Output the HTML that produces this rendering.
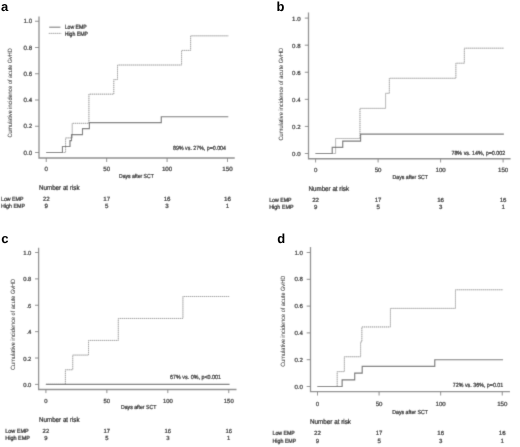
<!DOCTYPE html>
<html><head><meta charset="utf-8"><style>
html,body{margin:0;padding:0;background:#fff;}
body{width:520px;height:447px;overflow:hidden;}
svg{display:block;font-family:"Liberation Sans", sans-serif;text-rendering:geometricPrecision;}
</style></head><body>
<svg width="520" height="447" viewBox="0 0 520 447">
<defs><filter id="bl" x="0" y="0" width="520" height="447" filterUnits="userSpaceOnUse"><feConvolveMatrix order="3" kernelMatrix="0.0144 0.0912 0.0144 0.0912 0.5776 0.0912 0.0144 0.0912 0.0144" edgeMode="duplicate" preserveAlpha="true"/></filter>
<filter id="nb" x="0" y="0" width="520" height="447" filterUnits="userSpaceOnUse"><feOffset dx="0" dy="0"/></filter></defs>
<rect width="520" height="447" fill="#fff"/>
<g filter="url(#bl)">
<rect width="520" height="447" fill="#fff"/>
<path d="M39.00 16.50 V158.00 H234.75" fill="none" stroke="#8a8a8a" stroke-width="1.3"/>
<path d="M35.00 152.50 H39.00" stroke="#8a8a8a" stroke-width="1"/>
<text x="32.20" y="154.72" font-size="6.2" text-anchor="end" font-weight="normal" fill="#111" stroke="#111" stroke-width="0.2">0.0</text>
<path d="M35.00 126.25 H39.00" stroke="#8a8a8a" stroke-width="1"/>
<text x="32.20" y="128.47" font-size="6.2" text-anchor="end" font-weight="normal" fill="#111" stroke="#111" stroke-width="0.2">0.2</text>
<path d="M35.00 100.00 H39.00" stroke="#8a8a8a" stroke-width="1"/>
<text x="32.20" y="102.22" font-size="6.2" text-anchor="end" font-weight="normal" fill="#111" stroke="#111" stroke-width="0.2">0.4</text>
<path d="M35.00 73.75 H39.00" stroke="#8a8a8a" stroke-width="1"/>
<text x="32.20" y="75.97" font-size="6.2" text-anchor="end" font-weight="normal" fill="#111" stroke="#111" stroke-width="0.2">0.6</text>
<path d="M35.00 47.50 H39.00" stroke="#8a8a8a" stroke-width="1"/>
<text x="32.20" y="49.72" font-size="6.2" text-anchor="end" font-weight="normal" fill="#111" stroke="#111" stroke-width="0.2">0.8</text>
<path d="M35.00 21.25 H39.00" stroke="#8a8a8a" stroke-width="1"/>
<text x="32.20" y="23.47" font-size="6.2" text-anchor="end" font-weight="normal" fill="#111" stroke="#111" stroke-width="0.2">1.0</text>
<path d="M46.25 158.00 V162.00" stroke="#8a8a8a" stroke-width="1"/>
<text x="46.25" y="171.22" font-size="6.2" text-anchor="middle" font-weight="normal" fill="#111" stroke="#111" stroke-width="0.2">0</text>
<path d="M106.66 158.00 V162.00" stroke="#8a8a8a" stroke-width="1"/>
<text x="106.66" y="171.22" font-size="6.2" text-anchor="middle" font-weight="normal" fill="#111" stroke="#111" stroke-width="0.2">50</text>
<path d="M167.08 158.00 V162.00" stroke="#8a8a8a" stroke-width="1"/>
<text x="167.08" y="171.22" font-size="6.2" text-anchor="middle" font-weight="normal" fill="#111" stroke="#111" stroke-width="0.2">100</text>
<path d="M227.49 158.00 V162.00" stroke="#8a8a8a" stroke-width="1"/>
<text x="227.49" y="171.22" font-size="6.2" text-anchor="middle" font-weight="normal" fill="#111" stroke="#111" stroke-width="0.2">150</text>
<path d="M46.25 152.50 H65.58 V137.92 H72.23 V123.33 H88.90 V94.17 H113.79 V79.58 H117.54 V65.00 H181.58 V50.42 H190.64 V35.83 H228.29" fill="none" stroke="#dadada" stroke-width="1"/>
<path d="M46.25 152.50 H65.58 V137.92 H72.23 V123.33 H88.90 V94.17 H113.79 V79.58 H117.54 V65.00 H181.58 V50.42 H190.64 V35.83 H228.29" fill="none" stroke="#999" stroke-width="1" stroke-dasharray="1 1"/>
<path d="M46.25 152.50 H62.44 V146.53 H69.99 V140.57 H71.50 V134.60 H82.50 V128.64 H89.39 V122.67 H161.28 V116.70 H228.29" fill="none" stroke="#747474" stroke-width="1.15"/>
<text transform="translate(12.12,92.90) rotate(-90)" font-size="6.2" text-anchor="middle" fill="#111" textLength="89" lengthAdjust="spacingAndGlyphs">Cumulative incidence of acute GvHD</text>
<text x="119.00" y="178.38" font-size="5.8" text-anchor="start" font-weight="normal" fill="#111" stroke="#111" stroke-width="0.22" textLength="34.75" lengthAdjust="spacingAndGlyphs">Days after SCT</text>
<text x="173.10" y="150.45" font-size="6.0" text-anchor="start" font-weight="normal" fill="#111" stroke="#111" stroke-width="0.22" textLength="52.90" lengthAdjust="spacingAndGlyphs">89% vs. 27%, p=0.004</text>
<text x="39.00" y="190.01" font-size="7" text-anchor="start" font-weight="normal" fill="#111" stroke="#111" stroke-width="0.22" textLength="40.50" lengthAdjust="spacingAndGlyphs">Number at risk</text>
<text x="1.00" y="200.65" font-size="6" text-anchor="start" font-weight="normal" fill="#111" stroke="#111" stroke-width="0.22" textLength="22.50" lengthAdjust="spacingAndGlyphs">Low EMP</text>
<text x="1.00" y="207.75" font-size="6" text-anchor="start" font-weight="normal" fill="#111" stroke="#111" stroke-width="0.22" textLength="24.00" lengthAdjust="spacingAndGlyphs">High EMP</text>
<text x="46.25" y="200.72" font-size="6.2" text-anchor="middle" font-weight="normal" fill="#111" stroke="#111" stroke-width="0.22">22</text>
<text x="46.25" y="207.82" font-size="6.2" text-anchor="middle" font-weight="normal" fill="#111" stroke="#111" stroke-width="0.22">9</text>
<text x="106.66" y="200.72" font-size="6.2" text-anchor="middle" font-weight="normal" fill="#111" stroke="#111" stroke-width="0.22">17</text>
<text x="106.66" y="207.82" font-size="6.2" text-anchor="middle" font-weight="normal" fill="#111" stroke="#111" stroke-width="0.22">5</text>
<text x="167.08" y="200.72" font-size="6.2" text-anchor="middle" font-weight="normal" fill="#111" stroke="#111" stroke-width="0.22">16</text>
<text x="167.08" y="207.82" font-size="6.2" text-anchor="middle" font-weight="normal" fill="#111" stroke="#111" stroke-width="0.22">3</text>
<text x="227.49" y="200.72" font-size="6.2" text-anchor="middle" font-weight="normal" fill="#111" stroke="#111" stroke-width="0.22">16</text>
<text x="227.49" y="207.82" font-size="6.2" text-anchor="middle" font-weight="normal" fill="#111" stroke="#111" stroke-width="0.22">1</text>
<path d="M308.50 12.50 V158.75 H510.60" fill="none" stroke="#8a8a8a" stroke-width="1.3"/>
<path d="M304.80 153.50 H308.50" stroke="#8a8a8a" stroke-width="1"/>
<text x="300.60" y="155.93" font-size="6.1" text-anchor="end" font-weight="normal" fill="#111" stroke="#111" stroke-width="0.2">0.0</text>
<path d="M304.80 126.42 H308.50" stroke="#8a8a8a" stroke-width="1"/>
<text x="300.60" y="128.85" font-size="6.1" text-anchor="end" font-weight="normal" fill="#111" stroke="#111" stroke-width="0.2">0.2</text>
<path d="M304.80 99.34 H308.50" stroke="#8a8a8a" stroke-width="1"/>
<text x="300.60" y="101.77" font-size="6.1" text-anchor="end" font-weight="normal" fill="#111" stroke="#111" stroke-width="0.2">0.4</text>
<path d="M304.80 72.26 H308.50" stroke="#8a8a8a" stroke-width="1"/>
<text x="300.60" y="74.69" font-size="6.1" text-anchor="end" font-weight="normal" fill="#111" stroke="#111" stroke-width="0.2">0.6</text>
<path d="M304.80 45.18 H308.50" stroke="#8a8a8a" stroke-width="1"/>
<text x="300.60" y="47.61" font-size="6.1" text-anchor="end" font-weight="normal" fill="#111" stroke="#111" stroke-width="0.2">0.8</text>
<path d="M304.80 18.10 H308.50" stroke="#8a8a8a" stroke-width="1"/>
<text x="300.60" y="20.53" font-size="6.1" text-anchor="end" font-weight="normal" fill="#111" stroke="#111" stroke-width="0.2">1.0</text>
<path d="M315.60 158.75 V162.45" stroke="#8a8a8a" stroke-width="1"/>
<text x="315.60" y="172.43" font-size="6.1" text-anchor="middle" font-weight="normal" fill="#111" stroke="#111" stroke-width="0.2">0</text>
<path d="M378.10 158.75 V162.45" stroke="#8a8a8a" stroke-width="1"/>
<text x="378.10" y="172.43" font-size="6.1" text-anchor="middle" font-weight="normal" fill="#111" stroke="#111" stroke-width="0.2">50</text>
<path d="M440.60 158.75 V162.45" stroke="#8a8a8a" stroke-width="1"/>
<text x="440.60" y="172.43" font-size="6.1" text-anchor="middle" font-weight="normal" fill="#111" stroke="#111" stroke-width="0.2">100</text>
<path d="M503.10 158.75 V162.45" stroke="#8a8a8a" stroke-width="1"/>
<text x="503.10" y="172.43" font-size="6.1" text-anchor="middle" font-weight="normal" fill="#111" stroke="#111" stroke-width="0.2">150</text>
<path d="M315.60 153.50 H335.60 V138.46 H359.98 V108.37 H385.60 V93.32 H389.35 V78.28 H455.85 V63.23 H464.35 V48.19 H503.90" fill="none" stroke="#dadada" stroke-width="1"/>
<path d="M315.60 153.50 H335.60 V138.46 H359.98 V108.37 H385.60 V93.32 H389.35 V78.28 H455.85 V63.23 H464.35 V48.19 H503.90" fill="none" stroke="#999" stroke-width="1" stroke-dasharray="1 1"/>
<path d="M315.60 153.50 H332.23 V147.35 H342.73 V141.19 H360.60 V134.14 H503.90" fill="none" stroke="#747474" stroke-width="1.15"/>
<text transform="translate(283.22,94.20) rotate(-90)" font-size="6.2" text-anchor="middle" fill="#111" textLength="92.6" lengthAdjust="spacingAndGlyphs">Cumulative incidence of acute GvHD</text>
<text x="392.60" y="178.68" font-size="5.8" text-anchor="start" font-weight="normal" fill="#111" stroke="#111" stroke-width="0.22" textLength="35.40" lengthAdjust="spacingAndGlyphs">Days after SCT</text>
<text x="451.40" y="154.55" font-size="6.0" text-anchor="start" font-weight="normal" fill="#111" stroke="#111" stroke-width="0.22" textLength="53.90" lengthAdjust="spacingAndGlyphs">78% vs. 14%, p=0.002</text>
<text x="308.50" y="191.26" font-size="7" text-anchor="start" font-weight="normal" fill="#111" stroke="#111" stroke-width="0.22" textLength="40.50" lengthAdjust="spacingAndGlyphs">Number at risk</text>
<text x="269.20" y="201.75" font-size="6" text-anchor="start" font-weight="normal" fill="#111" stroke="#111" stroke-width="0.22" textLength="22.40" lengthAdjust="spacingAndGlyphs">Low EMP</text>
<text x="269.20" y="208.85" font-size="6" text-anchor="start" font-weight="normal" fill="#111" stroke="#111" stroke-width="0.22" textLength="24.30" lengthAdjust="spacingAndGlyphs">High EMP</text>
<text x="315.60" y="201.78" font-size="6.1" text-anchor="middle" font-weight="normal" fill="#111" stroke="#111" stroke-width="0.22">22</text>
<text x="315.60" y="208.88" font-size="6.1" text-anchor="middle" font-weight="normal" fill="#111" stroke="#111" stroke-width="0.22">9</text>
<text x="378.10" y="201.78" font-size="6.1" text-anchor="middle" font-weight="normal" fill="#111" stroke="#111" stroke-width="0.22">17</text>
<text x="378.10" y="208.88" font-size="6.1" text-anchor="middle" font-weight="normal" fill="#111" stroke="#111" stroke-width="0.22">5</text>
<text x="440.60" y="201.78" font-size="6.1" text-anchor="middle" font-weight="normal" fill="#111" stroke="#111" stroke-width="0.22">16</text>
<text x="440.60" y="208.88" font-size="6.1" text-anchor="middle" font-weight="normal" fill="#111" stroke="#111" stroke-width="0.22">3</text>
<text x="503.10" y="201.78" font-size="6.1" text-anchor="middle" font-weight="normal" fill="#111" stroke="#111" stroke-width="0.22">16</text>
<text x="503.10" y="208.88" font-size="6.1" text-anchor="middle" font-weight="normal" fill="#111" stroke="#111" stroke-width="0.22">1</text>
<path d="M38.60 247.75 V389.50 H236.50" fill="none" stroke="#8a8a8a" stroke-width="1.3"/>
<path d="M35.00 384.40 H38.60" stroke="#8a8a8a" stroke-width="1"/>
<text x="31.40" y="386.91" font-size="5.9" text-anchor="end" font-weight="normal" fill="#111" stroke="#111" stroke-width="0.2">0.0</text>
<path d="M35.00 358.02 H38.60" stroke="#8a8a8a" stroke-width="1"/>
<text x="31.40" y="360.53" font-size="5.9" text-anchor="end" font-weight="normal" fill="#111" stroke="#111" stroke-width="0.2">0.2</text>
<path d="M35.00 331.64 H38.60" stroke="#8a8a8a" stroke-width="1"/>
<text x="31.40" y="334.15" font-size="5.9" text-anchor="end" font-weight="normal" fill="#111" stroke="#111" stroke-width="0.2">.4</text>
<path d="M35.00 305.26 H38.60" stroke="#8a8a8a" stroke-width="1"/>
<text x="31.40" y="307.77" font-size="5.9" text-anchor="end" font-weight="normal" fill="#111" stroke="#111" stroke-width="0.2">.6</text>
<path d="M35.00 278.88 H38.60" stroke="#8a8a8a" stroke-width="1"/>
<text x="31.40" y="281.39" font-size="5.9" text-anchor="end" font-weight="normal" fill="#111" stroke="#111" stroke-width="0.2">0.8</text>
<path d="M35.00 252.50 H38.60" stroke="#8a8a8a" stroke-width="1"/>
<text x="31.40" y="255.01" font-size="5.9" text-anchor="end" font-weight="normal" fill="#111" stroke="#111" stroke-width="0.2">1.0</text>
<path d="M45.90 389.50 V393.10" stroke="#8a8a8a" stroke-width="1"/>
<text x="45.90" y="403.31" font-size="5.9" text-anchor="middle" font-weight="normal" fill="#111" stroke="#111" stroke-width="0.2">0</text>
<path d="M106.85 389.50 V393.10" stroke="#8a8a8a" stroke-width="1"/>
<text x="106.85" y="403.31" font-size="5.9" text-anchor="middle" font-weight="normal" fill="#111" stroke="#111" stroke-width="0.2">50</text>
<path d="M167.80 389.50 V393.10" stroke="#8a8a8a" stroke-width="1"/>
<text x="167.80" y="403.31" font-size="5.9" text-anchor="middle" font-weight="normal" fill="#111" stroke="#111" stroke-width="0.2">100</text>
<path d="M228.75 389.50 V393.10" stroke="#8a8a8a" stroke-width="1"/>
<text x="228.75" y="403.31" font-size="5.9" text-anchor="middle" font-weight="normal" fill="#111" stroke="#111" stroke-width="0.2">150</text>
<path d="M45.90 384.40 H65.40 V369.74 H72.72 V355.09 H88.56 V340.43 H118.31 V318.45 H182.92 V296.47 H229.55" fill="none" stroke="#dadada" stroke-width="1"/>
<path d="M45.90 384.40 H65.40 V369.74 H72.72 V355.09 H88.56 V340.43 H118.31 V318.45 H182.92 V296.47 H229.55" fill="none" stroke="#999" stroke-width="1" stroke-dasharray="1 1"/>
<path d="M45.90 384.40 H229.55" fill="none" stroke="#747474" stroke-width="1.15"/>
<text transform="translate(15.22,324.40) rotate(-90)" font-size="6.2" text-anchor="middle" fill="#111" textLength="91" lengthAdjust="spacingAndGlyphs">Cumulative incidence of acute GvHD</text>
<text x="121.00" y="408.88" font-size="5.8" text-anchor="start" font-weight="normal" fill="#111" stroke="#111" stroke-width="0.22" textLength="35.30" lengthAdjust="spacingAndGlyphs">Days after SCT</text>
<text x="170.10" y="379.35" font-size="6.0" text-anchor="start" font-weight="normal" fill="#111" stroke="#111" stroke-width="0.22" textLength="50.90" lengthAdjust="spacingAndGlyphs">67% vs. 0%, p&lt;0.001</text>
<text x="39.00" y="422.01" font-size="7" text-anchor="start" font-weight="normal" fill="#111" stroke="#111" stroke-width="0.22" textLength="40.50" lengthAdjust="spacingAndGlyphs">Number at risk</text>
<text x="5.25" y="432.95" font-size="6" text-anchor="start" font-weight="normal" fill="#111" stroke="#111" stroke-width="0.22" textLength="23.50" lengthAdjust="spacingAndGlyphs">Low EMP</text>
<text x="5.25" y="440.45" font-size="6" text-anchor="start" font-weight="normal" fill="#111" stroke="#111" stroke-width="0.22" textLength="24.75" lengthAdjust="spacingAndGlyphs">High EMP</text>
<text x="45.90" y="432.91" font-size="5.9" text-anchor="middle" font-weight="normal" fill="#111" stroke="#111" stroke-width="0.22">22</text>
<text x="45.90" y="440.41" font-size="5.9" text-anchor="middle" font-weight="normal" fill="#111" stroke="#111" stroke-width="0.22">9</text>
<text x="106.85" y="432.91" font-size="5.9" text-anchor="middle" font-weight="normal" fill="#111" stroke="#111" stroke-width="0.22">17</text>
<text x="106.85" y="440.41" font-size="5.9" text-anchor="middle" font-weight="normal" fill="#111" stroke="#111" stroke-width="0.22">5</text>
<text x="167.80" y="432.91" font-size="5.9" text-anchor="middle" font-weight="normal" fill="#111" stroke="#111" stroke-width="0.22">16</text>
<text x="167.80" y="440.41" font-size="5.9" text-anchor="middle" font-weight="normal" fill="#111" stroke="#111" stroke-width="0.22">3</text>
<text x="228.75" y="432.91" font-size="5.9" text-anchor="middle" font-weight="normal" fill="#111" stroke="#111" stroke-width="0.22">16</text>
<text x="228.75" y="440.41" font-size="5.9" text-anchor="middle" font-weight="normal" fill="#111" stroke="#111" stroke-width="0.22">1</text>
<path d="M310.50 247.10 V391.70 H510.00" fill="none" stroke="#8a8a8a" stroke-width="1.3"/>
<path d="M306.70 386.50 H310.50" stroke="#8a8a8a" stroke-width="1"/>
<text x="302.90" y="388.68" font-size="6.1" text-anchor="end" font-weight="normal" fill="#111" stroke="#111" stroke-width="0.2">0.0</text>
<path d="M306.70 359.70 H310.50" stroke="#8a8a8a" stroke-width="1"/>
<text x="302.90" y="361.88" font-size="6.1" text-anchor="end" font-weight="normal" fill="#111" stroke="#111" stroke-width="0.2">0.2</text>
<path d="M306.70 332.90 H310.50" stroke="#8a8a8a" stroke-width="1"/>
<text x="302.90" y="335.08" font-size="6.1" text-anchor="end" font-weight="normal" fill="#111" stroke="#111" stroke-width="0.2">0.4</text>
<path d="M306.70 306.10 H310.50" stroke="#8a8a8a" stroke-width="1"/>
<text x="302.90" y="308.28" font-size="6.1" text-anchor="end" font-weight="normal" fill="#111" stroke="#111" stroke-width="0.2">0.6</text>
<path d="M306.70 279.30 H310.50" stroke="#8a8a8a" stroke-width="1"/>
<text x="302.90" y="281.48" font-size="6.1" text-anchor="end" font-weight="normal" fill="#111" stroke="#111" stroke-width="0.2">0.8</text>
<path d="M306.70 252.50 H310.50" stroke="#8a8a8a" stroke-width="1"/>
<text x="302.90" y="254.68" font-size="6.1" text-anchor="end" font-weight="normal" fill="#111" stroke="#111" stroke-width="0.2">1.0</text>
<path d="M317.50 391.70 V395.50" stroke="#8a8a8a" stroke-width="1"/>
<text x="317.50" y="405.98" font-size="6.1" text-anchor="middle" font-weight="normal" fill="#111" stroke="#111" stroke-width="0.2">0</text>
<path d="M379.08 391.70 V395.50" stroke="#8a8a8a" stroke-width="1"/>
<text x="379.08" y="405.98" font-size="6.1" text-anchor="middle" font-weight="normal" fill="#111" stroke="#111" stroke-width="0.2">50</text>
<path d="M440.67 391.70 V395.50" stroke="#8a8a8a" stroke-width="1"/>
<text x="440.67" y="405.98" font-size="6.1" text-anchor="middle" font-weight="normal" fill="#111" stroke="#111" stroke-width="0.2">100</text>
<path d="M502.25 391.70 V395.50" stroke="#8a8a8a" stroke-width="1"/>
<text x="502.25" y="405.98" font-size="6.1" text-anchor="middle" font-weight="normal" fill="#111" stroke="#111" stroke-width="0.2">150</text>
<path d="M317.50 386.50 H337.21 V371.61 H344.35 V356.72 H360.61 V341.83 H361.84 V326.94 H390.42 V308.38 H455.45 V289.75 H503.06" fill="none" stroke="#dadada" stroke-width="1"/>
<path d="M317.50 386.50 H337.21 V371.61 H344.35 V356.72 H360.61 V341.83 H361.84 V326.94 H390.42 V308.38 H455.45 V289.75 H503.06" fill="none" stroke="#999" stroke-width="1" stroke-dasharray="1 1"/>
<path d="M317.50 386.50 H342.13 V379.80 H354.70 V373.10 H362.21 V366.40 H434.76 V359.70 H503.06" fill="none" stroke="#747474" stroke-width="1.15"/>
<text transform="translate(285.02,321.30) rotate(-90)" font-size="6.2" text-anchor="middle" fill="#111" textLength="91" lengthAdjust="spacingAndGlyphs">Cumulative incidence of acute GvHD</text>
<text x="392.20" y="414.48" font-size="5.8" text-anchor="start" font-weight="normal" fill="#111" stroke="#111" stroke-width="0.22" textLength="35.80" lengthAdjust="spacingAndGlyphs">Days after SCT</text>
<text x="452.80" y="386.75" font-size="6.0" text-anchor="start" font-weight="normal" fill="#111" stroke="#111" stroke-width="0.22" textLength="50.50" lengthAdjust="spacingAndGlyphs">72% vs. 36%, p=0.01</text>
<text x="310.00" y="423.91" font-size="7" text-anchor="start" font-weight="normal" fill="#111" stroke="#111" stroke-width="0.22" textLength="41.00" lengthAdjust="spacingAndGlyphs">Number at risk</text>
<text x="272.50" y="435.40" font-size="6" text-anchor="start" font-weight="normal" fill="#111" stroke="#111" stroke-width="0.22" textLength="22.25" lengthAdjust="spacingAndGlyphs">Low EMP</text>
<text x="272.50" y="442.55" font-size="6" text-anchor="start" font-weight="normal" fill="#111" stroke="#111" stroke-width="0.22" textLength="23.75" lengthAdjust="spacingAndGlyphs">High EMP</text>
<text x="317.50" y="435.43" font-size="6.1" text-anchor="middle" font-weight="normal" fill="#111" stroke="#111" stroke-width="0.22">22</text>
<text x="317.50" y="442.58" font-size="6.1" text-anchor="middle" font-weight="normal" fill="#111" stroke="#111" stroke-width="0.22">9</text>
<text x="379.08" y="435.43" font-size="6.1" text-anchor="middle" font-weight="normal" fill="#111" stroke="#111" stroke-width="0.22">17</text>
<text x="379.08" y="442.58" font-size="6.1" text-anchor="middle" font-weight="normal" fill="#111" stroke="#111" stroke-width="0.22">5</text>
<text x="440.67" y="435.43" font-size="6.1" text-anchor="middle" font-weight="normal" fill="#111" stroke="#111" stroke-width="0.22">16</text>
<text x="440.67" y="442.58" font-size="6.1" text-anchor="middle" font-weight="normal" fill="#111" stroke="#111" stroke-width="0.22">3</text>
<text x="502.25" y="435.43" font-size="6.1" text-anchor="middle" font-weight="normal" fill="#111" stroke="#111" stroke-width="0.22">16</text>
<text x="502.25" y="442.58" font-size="6.1" text-anchor="middle" font-weight="normal" fill="#111" stroke="#111" stroke-width="0.22">1</text>
<path d="M49.2 27.2 H60.4" stroke="#555" stroke-width="0.85"/>
<path d="M48.8 33.4 H61.2" stroke="#dadada" stroke-width="1"/>
<path d="M48.8 33.4 H61.2" stroke="#999" stroke-width="1" stroke-dasharray="1 1"/>
<text x="64.70" y="29.08" font-size="6.1" text-anchor="start" font-weight="normal" fill="#111" stroke="#111" stroke-width="0.22" textLength="22.10" lengthAdjust="spacingAndGlyphs">Low EMP</text>
<text x="64.70" y="35.58" font-size="6.1" text-anchor="start" font-weight="normal" fill="#111" stroke="#111" stroke-width="0.22" textLength="23.30" lengthAdjust="spacingAndGlyphs">High EMP</text>
</g>
<g filter="url(#nb)"><text x="0.90" y="10.60" font-size="13.0" font-weight="bold" fill="#000">a</text>
<text x="276.60" y="10.60" font-size="13.0" font-weight="bold" fill="#000">b</text>
<text x="1.20" y="243.40" font-size="13.0" font-weight="bold" fill="#000">c</text>
<text x="277.20" y="243.40" font-size="13.0" font-weight="bold" fill="#000">d</text></g>
</svg>
</body></html>
